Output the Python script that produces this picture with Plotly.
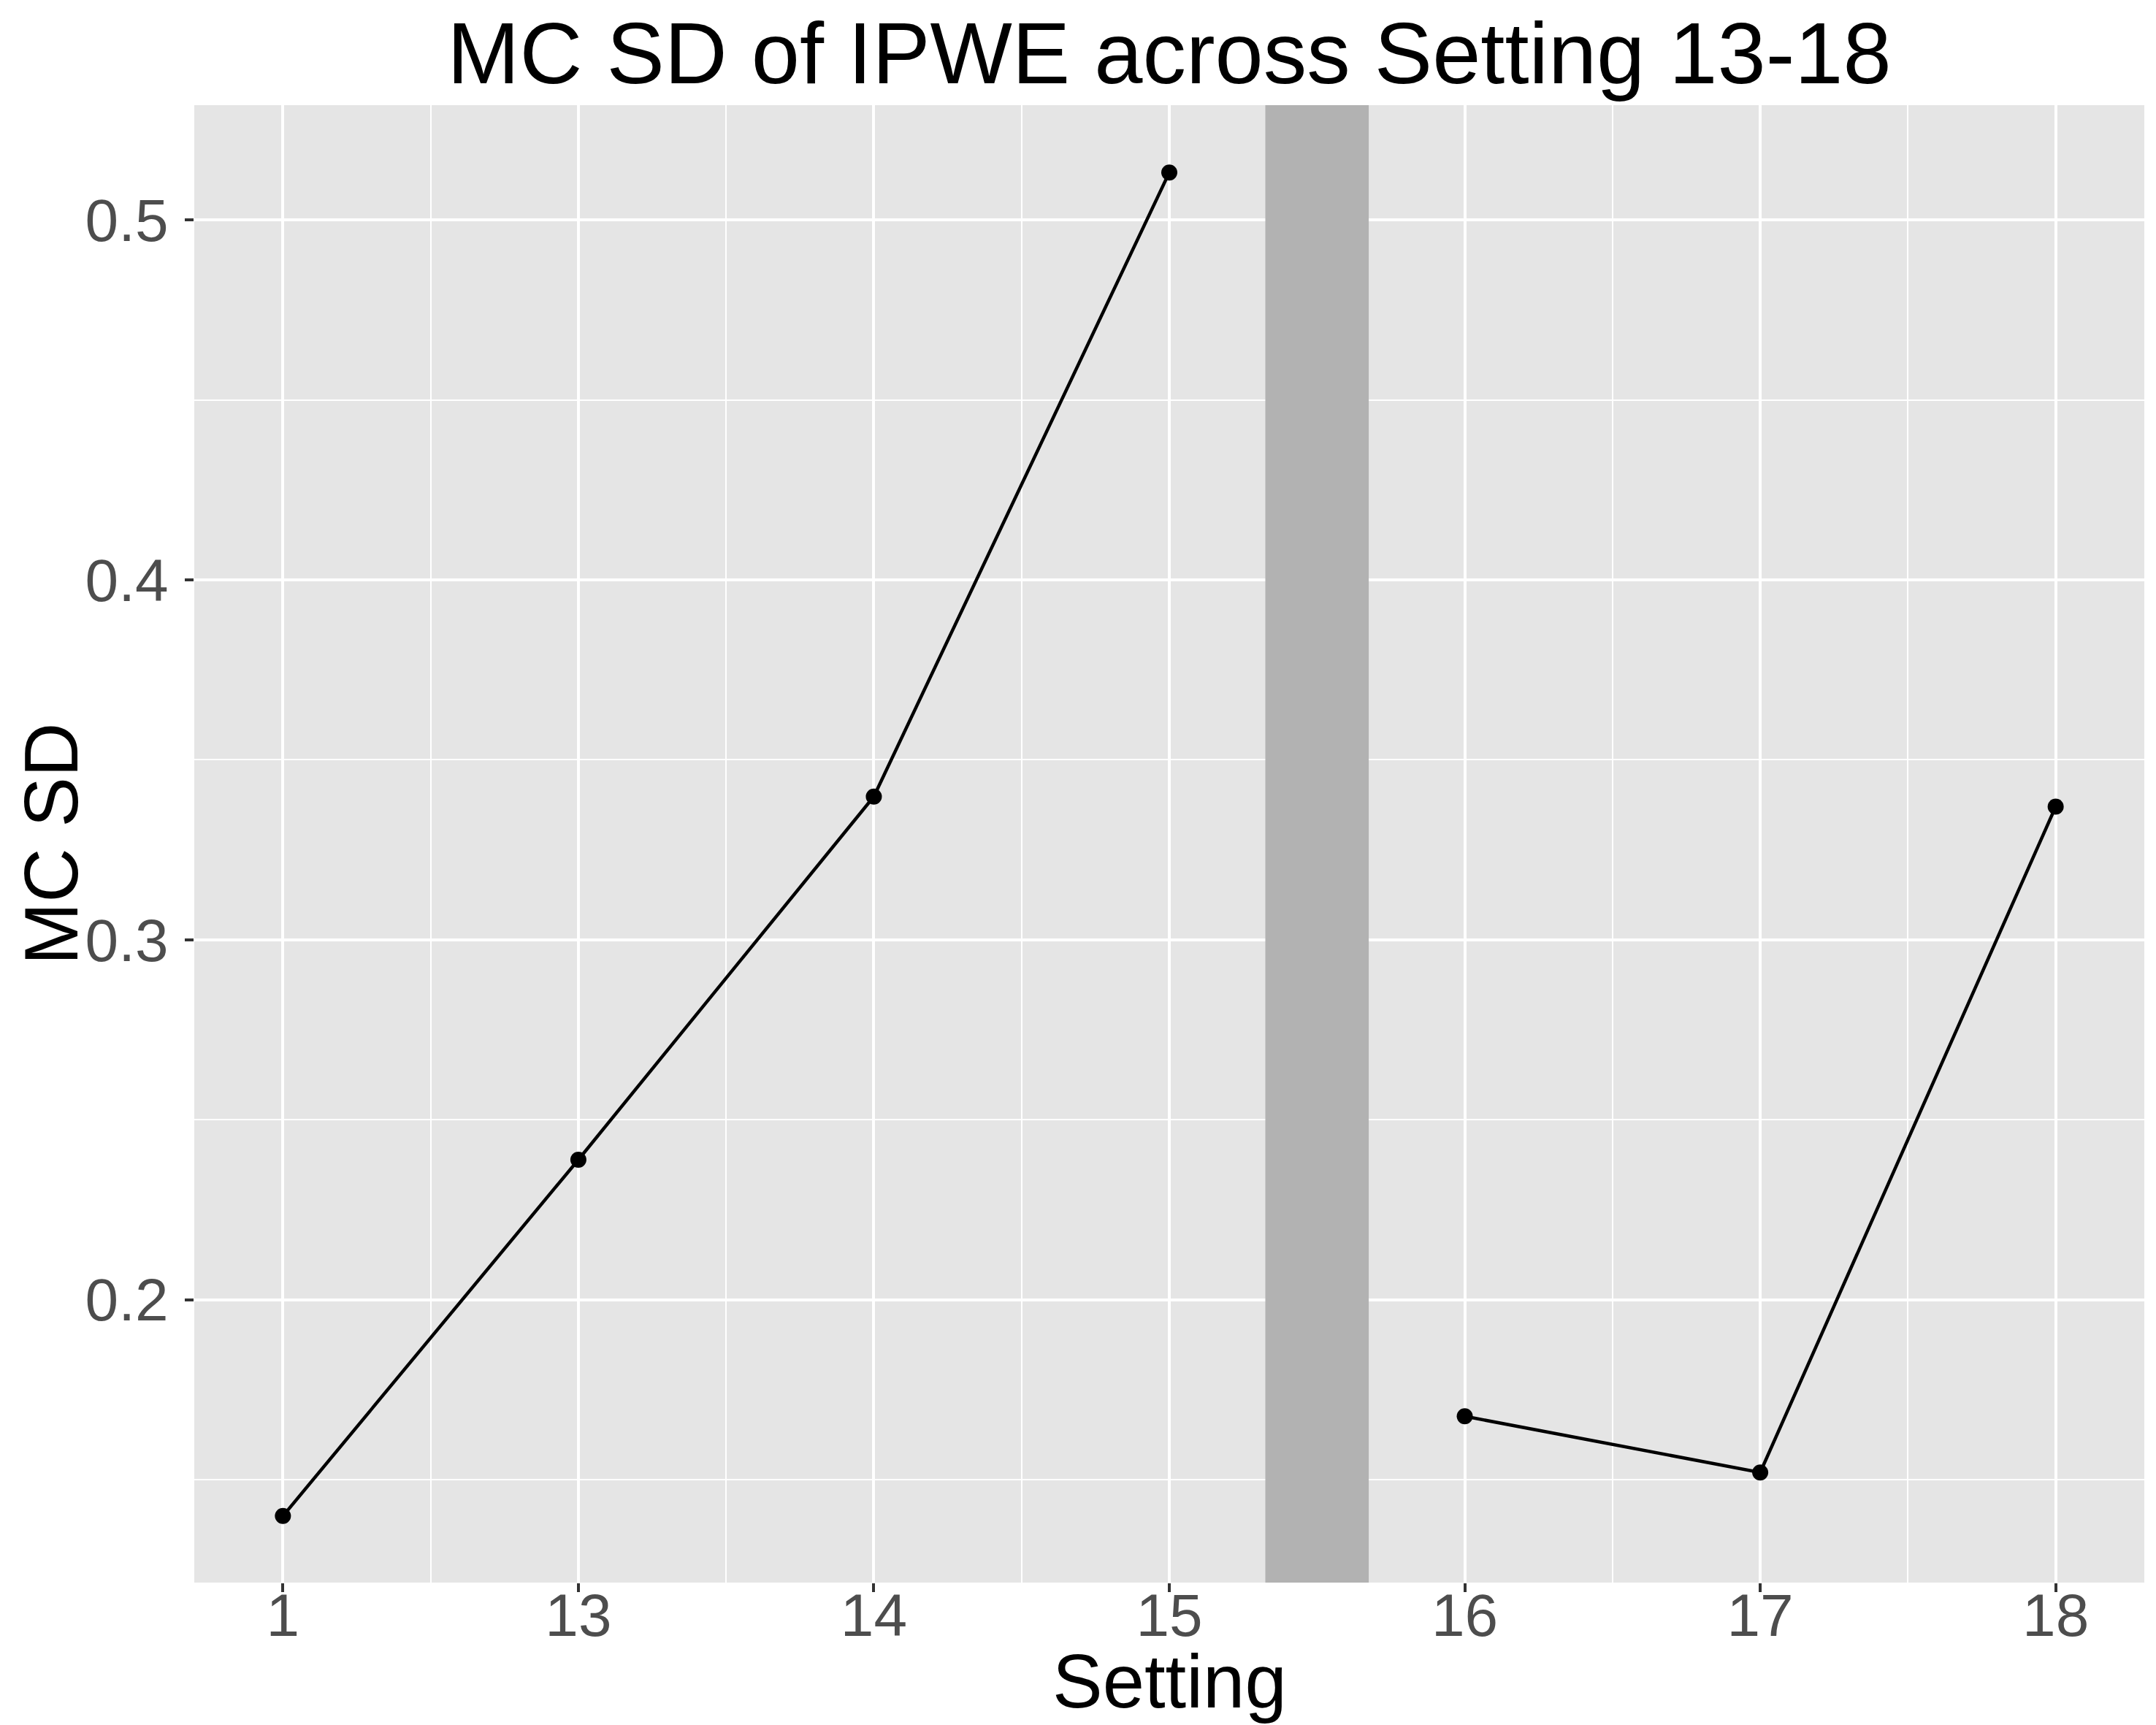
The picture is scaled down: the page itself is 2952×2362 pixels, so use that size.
import plotly.graph_objects as go

# Data
settings = ["1", "13", "14", "15", "16", "17", "18"]
positions = [1, 2, 3, 4, 5, 6, 7]
mc_sd = [0.1399, 0.2389, 0.3398, 0.5132, 0.1676, 0.1520, 0.3370]
group = ["A", "A", "A", "A", "B", "B", "B"]
y_ticks = [0.2, 0.3, 0.4, 0.5]
y_minor = [0.15, 0.25, 0.35, 0.45]
x_minor = [1.5, 2.5, 3.5, 4.5, 5.5, 6.5]
gap_start, gap_end = 4.325, 4.675

FONT = "Liberation Sans, Arial, Helvetica, sans-serif"
W, H = 2952, 2362
ML, MR, MT, MB = 258, 24, 136, 203

fig = go.Figure()
for g in ["A", "B"]:
    xs = [p for p, gg in zip(positions, group) if gg == g]
    ys = [v for v, gg in zip(mc_sd, group) if gg == g]
    fig.add_trace(go.Scatter(
        x=xs, y=ys, mode="lines+markers",
        line=dict(color="black", width=4.5),
        marker=dict(color="black", size=22),
        showlegend=False, cliponaxis=False,
    ))

fig.add_shape(type="rect", xref="x", yref="paper",
              x0=gap_start, x1=gap_end, y0=0, y1=1,
              fillcolor="#B2B2B2", line=dict(width=0), layer="above")

fig.update_layout(
    width=W, height=H,
    margin=dict(l=ML, r=MR, t=MT, b=MB, pad=0),
    paper_bgcolor="white", plot_bgcolor="#E5E5E5",
    font=dict(family=FONT, color="black"),
    title=dict(text="MC SD of IPWE across Setting 13-18",
               font=dict(family=FONT, size=119, color="black"),
               x=(ML + (W - MR)) / 2 / W, xanchor="center", xref="container",
               y=1 - 106 / H, yanchor="bottom", yref="container"),
    showlegend=False,
)

fig.update_xaxes(
    range=[0.7, 7.3], tickvals=positions, ticktext=settings,
    showgrid=True, gridcolor="white", gridwidth=4.3,
    zeroline=False, showline=False,
    ticks="outside", ticklen=12, tickwidth=4, tickcolor="#333333",
    ticklabelstandoff=-38,
    tickfont=dict(family=FONT, size=82, color="#4D4D4D"),
    minor=dict(tickvals=x_minor, showgrid=True, gridcolor="white", gridwidth=2.2, ticks=""),
)
fig.update_yaxes(
    range=[0.1214, 0.5319], tickvals=y_ticks, ticktext=[f"{v:.1f}" for v in y_ticks],
    showgrid=True, gridcolor="white", gridwidth=4.3,
    zeroline=False, showline=False,
    ticks="outside", ticklen=12, tickwidth=4, tickcolor="#333333",
    ticklabelstandoff=6,
    tickfont=dict(family=FONT, size=82, color="#4D4D4D"),
    minor=dict(tickvals=y_minor, showgrid=True, gridcolor="white", gridwidth=2.2, ticks=""),
)

# Axis titles
fig.add_annotation(text="Setting", xref="paper", yref="paper",
                   x=0.5, y=-(2332 - (H - MB)) / (H - MT - MB), yanchor="bottom",
                   xanchor="center", showarrow=False, yshift=-22,
                   font=dict(family=FONT, size=103, color="black"))
fig.add_annotation(text="MC SD", xref="paper", yref="paper",
                   x=-(ML - 62) / (W - ML - MR), y=0.5, xanchor="center", yanchor="middle",
                   textangle=-90, showarrow=False,
                   font=dict(family=FONT, size=103, color="black"))

fig.write_html("out.html")
